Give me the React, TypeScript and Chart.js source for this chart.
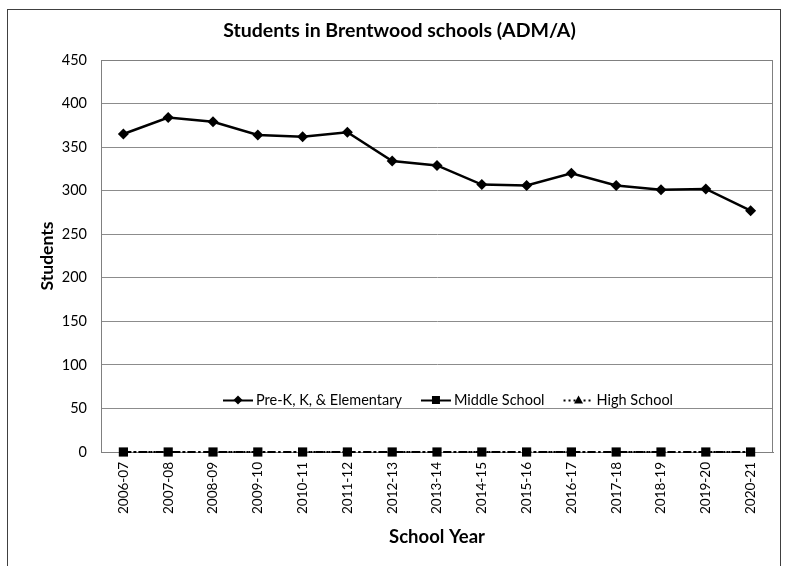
import React, { useEffect, useRef } from "react";
import { Chart, registerables } from "chart.js";

Chart.register(...registerables);

const schoolYears = [
  "2006-07", "2007-08", "2008-09", "2009-10", "2010-11", "2011-12", "2012-13",
  "2013-14", "2014-15", "2015-16", "2016-17", "2017-18", "2018-19", "2019-20", "2020-21",
];
const elementaryStudents = [365, 384, 379, 364, 362, 367, 334, 329, 307, 306, 320, 306, 301, 302, 277];
const middleSchoolStudents = [0, 0, 0, 0, 0, 0, 0, 0, 0, 0, 0, 0, 0, 0, 0];
const highSchoolStudents = [0, 0, 0, 0, 0, 0, 0, 0, 0, 0, 0, 0, 0, 0, 0];
const yMin = 0;
const yMax = 450;
const yStep = 50;

const chartTitle = "Students in Brentwood schools (ADM/A)";
const xTitle = "School Year";
const yTitle = "Students";

const FONT = "Lato, 'Open Sans', sans-serif";

const framePlugin = {
  id: "frame",
  beforeDraw(chart: any) {
    const { ctx, width, height } = chart;
    ctx.save();
    ctx.fillStyle = "#ffffff";
    ctx.fillRect(0, 0, width, height);
    ctx.restore();
  },
  afterDraw(chart: any) {
    const { ctx } = chart;
    ctx.save();
    ctx.strokeStyle = "#404040";
    ctx.lineWidth = 1;
    ctx.strokeRect(7.5, 9.5, 773, 620);
    ctx.restore();
  },
  beforeDatasetsDraw(chart: any) {
    const { ctx, chartArea } = chart;
    ctx.save();
    ctx.strokeStyle = "#808080";
    ctx.lineWidth = 1;
    ctx.beginPath();
    ctx.moveTo(chartArea.left, chartArea.top + 0.5);
    ctx.lineTo(chartArea.right - 0.5, chartArea.top + 0.5);
    ctx.lineTo(chartArea.right - 0.5, chartArea.bottom);
    ctx.stroke();
    ctx.restore();
  },
};

const insideLegendPlugin = {
  id: "insideLegend",
  afterDatasetsDraw(chart: any) {
    const { ctx, chartArea } = chart;
    const y = chartArea.bottom - 52;
    let x = chartArea.left + 122;
    ctx.save();
    ctx.font = `14.5px ${FONT}`;
    ctx.textBaseline = "middle";
    ctx.textAlign = "left";
    chart.data.datasets.forEach((ds: any, i: number) => {
      const sampleW = 30;
      ctx.strokeStyle = "#000";
      ctx.lineWidth = 2;
      ctx.setLineDash(i === 2 ? [2, 3] : []);
      ctx.beginPath();
      ctx.moveTo(x, y + 0.5);
      ctx.lineTo(x + sampleW, y + 0.5);
      ctx.stroke();
      ctx.setLineDash([]);
      const cx = x + sampleW / 2;
      ctx.fillStyle = "#000";
      ctx.beginPath();
      if (ds.pointStyle === "rectRot") {
        const r = 4.5;
        ctx.moveTo(cx, y - r);
        ctx.lineTo(cx + r, y);
        ctx.lineTo(cx, y + r);
        ctx.lineTo(cx - r, y);
        ctx.closePath();
      } else if (ds.pointStyle === "rect") {
        ctx.rect(cx - 4, y - 4, 8, 8);
      } else {
        const r = 4.5;
        ctx.moveTo(cx, y - r);
        ctx.lineTo(cx + r, y + r * 0.8);
        ctx.lineTo(cx - r, y + r * 0.8);
        ctx.closePath();
      }
      ctx.fill();
      const tx = x + sampleW + 3;
      ctx.fillStyle = "#000";
      ctx.fillText(ds.label, tx, y);
      const tw = ctx.measureText(ds.label).width;
      x = tx + tw + 19;
    });
    ctx.restore();
  },
};

export default function App() {
  const canvasRef = useRef<HTMLCanvasElement | null>(null);

  useEffect(() => {
    if (!canvasRef.current) return;
    const chart = new Chart(canvasRef.current, {
      type: "line",
      data: {
        labels: schoolYears,
        datasets: [
          {
            label: "Pre-K, K, & Elementary",
            data: elementaryStudents,
            borderColor: "#000",
            backgroundColor: "#000",
            borderWidth: 2.5,
            pointStyle: "rectRot",
            pointRadius: 5.5,
            pointBorderWidth: 0,
            tension: 0,
            clip: false,
          },
          {
            label: "Middle School",
            data: middleSchoolStudents,
            borderColor: "#000",
            backgroundColor: "#000",
            borderWidth: 2,
            borderDash: [8, 3, 2, 3],
            pointStyle: "rect",
            pointRadius: 6.5,
            pointBorderWidth: 0,
            tension: 0,
            clip: false,
          },
          {
            label: "High School",
            data: highSchoolStudents,
            borderColor: "#000",
            backgroundColor: "#000",
            borderWidth: 2,
            borderDash: [2, 3],
            pointStyle: "triangle",
            pointRadius: 4,
            pointBorderWidth: 0,
            tension: 0,
            clip: false,
          },
        ],
      },
      options: {
        animation: false,
        responsive: false,
        maintainAspectRatio: false,
        layout: { padding: { left: 26, right: 13, top: 0, bottom: 0 } },
        plugins: {
          legend: { display: false },
          tooltip: { enabled: false },
          title: {
            display: true,
            text: chartTitle,
            color: "#000",
            font: { family: FONT, size: 19.5, weight: "bold", lineHeight: 1.2 },
            padding: { top: 19, bottom: 17.6 },
          },
        },
        scales: {
          x: {
            type: "category",
            offset: true,
            grid: { display: false, drawTicks: false },
            border: { display: true, color: "#808080", width: 1 },
            ticks: {
              color: "#000",
              font: { family: FONT, size: 13.5 },
              maxRotation: 90,
              minRotation: 90,
              padding: 10,
              autoSkip: false,
            },
            title: {
              display: true,
              text: xTitle,
              color: "#000",
              font: { family: FONT, size: 18.5, weight: "bold", lineHeight: 1.2 },
              padding: { top: 0, bottom: 18 },
            },
            afterFit(scale: any) {
              scale.height = 114;
            },
          },
          y: {
            min: yMin,
            max: yMax,
            grid: { color: "#8c8c8c", lineWidth: 1, drawTicks: false },
            border: { display: true, color: "#808080", width: 1 },
            ticks: {
              stepSize: yStep,
              color: "#000",
              font: { family: FONT, size: 14.5 },
              padding: 14,
            },
            title: {
              display: true,
              text: yTitle,
              color: "#000",
              font: { family: FONT, size: 17.5, weight: "bold", lineHeight: 1.2 },
              padding: { top: 10.5, bottom: 0 },
            },
            afterFit(scale: any) {
              scale.width = 75;
            },
          },
        },
      },
      plugins: [framePlugin, insideLegendPlugin],
    } as any);
    return () => chart.destroy();
  }, []);

  return (
    <div style={{ position: "fixed", left: 0, top: 0, width: 786, height: 566 }}>
      <canvas ref={canvasRef} width={786} height={566} style={{ width: 786, height: 566, display: "block" }} />
    </div>
  );
}
